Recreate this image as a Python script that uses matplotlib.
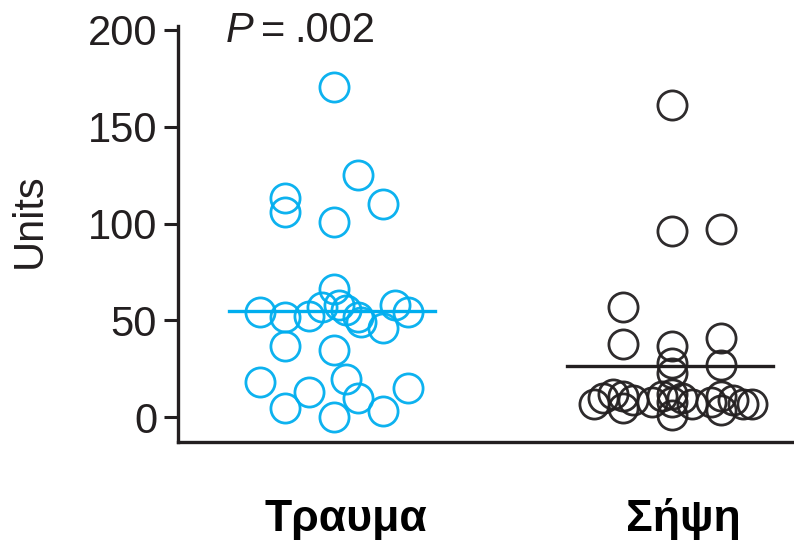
import matplotlib
matplotlib.use("Agg")
import matplotlib.pyplot as plt
import numpy as np

# ===== data =====
groups = ["Τραυμα", "Σήψη"]

trauma_vals = [170.5, 125, 110, 113, 106, 101,
               66, 54.5, 52, 52.5, 57, 58, 55.5, 52, 49, 58, 54.5, 46, 37, 35,
               18, 20, 13, 5, 0, 10, 3, 15]
# column slot of each point inside the swarm
trauma_slot = [0, 1, 2, -2, -2, 0,
               0, -3, -2, -1, -0.5, 0.2, 0.5, 1, 1.1, 2.5, 3, 2, -2, 0,
               -3, 0.5, -1, -2, 0, 1, 2, 3]

sepsis_vals = [161, 96, 97, 57, 38, 37, 41, 28, 23, 27,
               7, 10, 12, 5, 9, 11,
               8, 11, 12, 8, 10, 7, 1,
               8, 11, 4, 9, 7, 7]
sepsis_slot = [0, 0, 2, -2, -2, 0, 2, 0, 0, 2,
               -3.2, -2.8, -2.4, -2, -1.6, -2,
               -0.8, -0.4, 0, 0, 0.4, 0.8, 0,
               1.6, 2, 2, 2.5, 2.9, 3.25]

p_value = ".002"
yticks = [0, 50, 100, 150, 200]

# ===== style =====
blue = "#00aeef"
black = "#231f20"
slot_w = 0.0725

plt.rcParams["font.family"] = ["Liberation Sans", "DejaVu Sans"]

fig = plt.figure(figsize=(7.94, 5.49), dpi=100)
ax = fig.add_axes([178 / 794, 107 / 549, 616 / 794, 416 / 549])

for i, (vals, slots, col) in enumerate([(trauma_vals, trauma_slot, blue),
                                        (sepsis_vals, sepsis_slot, black)]):
    xs = (i + 1) + np.array(slots) * slot_w
    ax.plot(xs, vals, "o", ms=21, mfc="none", mec=col, mew=2.0, alpha=0.95)
    m = np.mean(vals)
    ax.plot([i + 1 - 0.31, i + 1 + 0.30], [m, m], color=col, lw=2.4)

ax.set_xlim(0.5385, 2.361)
ax.set_ylim(-12.75, 202)
ax.set_yticks(yticks)
ax.set_xticks([])

# group names under the axis (a little right of the group centre)
for i, g in enumerate(groups):
    ax.text(i + 1 + 0.035, -0.214, g, transform=ax.get_xaxis_transform(),
            ha="center", va="baseline", fontsize=32, fontweight="bold",
            color="black")

ax.tick_params(axis="y", length=10, width=2.2, pad=5, labelsize=30,
               colors=black)
for s in ["top", "right"]:
    ax.spines[s].set_visible(False)
for s in ["left", "bottom"]:
    ax.spines[s].set_linewidth(2.4)
    ax.spines[s].set_color(black)

fig.text(30 / 794, 1 - 221 / 549, "Units", rotation=90, ha="center",
         va="center", fontsize=30, color=black)
# "P = .002" with italic P
ty = 1 - 27 / 549
fig.text(226 / 794, ty, "P", style="italic", ha="left", va="center_baseline",
         fontsize=30, color=black)
fig.text(261 / 794, ty, "=", ha="left", va="center_baseline", fontsize=30,
         color=black)
fig.text(294 / 794, ty, p_value, ha="left", va="center_baseline",
         fontsize=30, color=black)

fig.savefig("out.png", dpi=100)
